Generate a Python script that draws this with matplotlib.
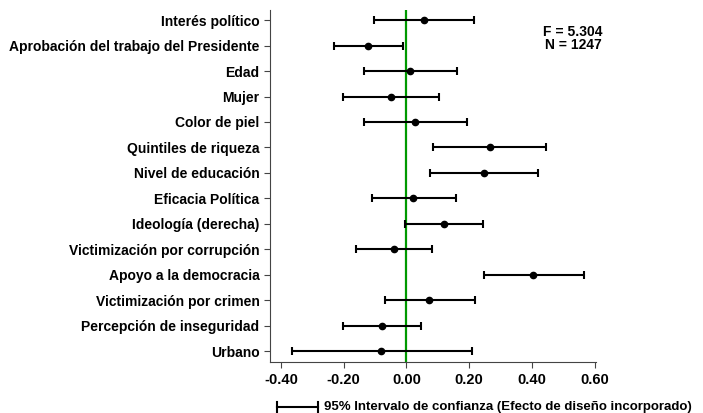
import matplotlib
matplotlib.use("Agg")
import matplotlib.pyplot as plt
from matplotlib.lines import Line2D

plt.rcParams['font.family'] = ['Liberation Sans', 'DejaVu Sans']
plt.rcParams['font.weight'] = 'bold'

# coefficients and 95% confidence bounds
variables = [
    "Interés político",
    "Aprobación del trabajo del Presidente",
    "Edad",
    "Mujer",
    "Color de piel",
    "Quintiles de riqueza",
    "Nivel de educación",
    "Eficacia Política",
    "Ideología (derecha)",
    "Victimización por corrupción",
    "Apoyo a la democracia",
    "Victimización por crimen",
    "Percepción de inseguridad",
    "Urbano",
]
coef = [0.056, -0.122, 0.011, -0.050, 0.027, 0.265, 0.247,
        0.022, 0.119, -0.041, 0.405, 0.073, -0.078, -0.081]
lower = [-0.102, -0.231, -0.136, -0.202, -0.134, 0.085, 0.076,
         -0.110, -0.005, -0.161, 0.246, -0.068, -0.203, -0.366]
upper = [0.215, -0.011, 0.160, 0.104, 0.193, 0.446, 0.419,
         0.157, 0.244, 0.081, 0.566, 0.218, 0.048, 0.209]
xticks = [-0.40, -0.20, 0.00, 0.20, 0.40, 0.60]
stats_text = "F = 5.304\nN = 1247"
legend_text = "95% Intervalo de confianza (Efecto de diseño incorporado)"

fig = plt.figure(figsize=(7.03, 4.13), dpi=100)
ax = fig.add_axes([0.384, 0.123, 0.464, 0.853])

ypos = list(range(1, len(variables) + 1))
err_lo = [c - l for c, l in zip(coef, lower)]
err_hi = [u - c for c, u in zip(coef, upper)]

ax.axvline(0, color='#009900', lw=1.6, zorder=1)
ax.errorbar(coef, ypos, xerr=[err_lo, err_hi], fmt='o', color='black',
            ms=4.5, elinewidth=1.5, capsize=3.2, capthick=1.5, zorder=3)

ax.set_xlim(-0.435, 0.605)
ax.set_ylim(14.43, 0.6)
ax.set_yticks(ypos)
ax.set_yticklabels(variables, fontsize=10, fontweight='bold')
ax.set_xticks(xticks)
ax.set_xticklabels(["%.2f" % t for t in xticks], fontsize=10.5, fontweight='bold')
for s in ['top', 'right']:
    ax.spines[s].set_visible(False)
for s in ['left', 'bottom']:
    ax.spines[s].set_color('#444444')
ax.tick_params(axis='both', direction='out', length=4, color='#444444')

ax.text(1.018, 0.919, stats_text, transform=ax.transAxes, ha='right', va='center',
        fontsize=10, fontweight='bold', linespacing=0.85)

# legend key drawn below the axes
y0 = 1 - 407 / 413
x0, x1 = 277 / 703, 318 / 703
fig.add_artist(Line2D([x0, x1], [y0, y0], color='black', lw=1.5))
for xc in (x0, x1):
    fig.add_artist(Line2D([xc, xc], [y0 - 0.012, y0 + 0.012], color='black', lw=1.5))
fig.text(324 / 703, y0, legend_text, ha='left', va='center', fontsize=9.5, fontweight='bold')

fig.savefig("out.png", dpi=100)
